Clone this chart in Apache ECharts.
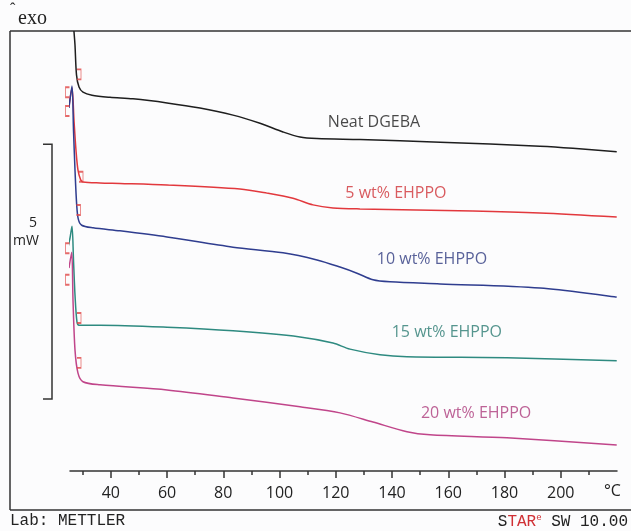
<!DOCTYPE html>
<html>
<head>
<meta charset="utf-8">
<script src="https://cdn.jsdelivr.net/npm/echarts@6/dist/echarts.min.js"></script>
<style>
html, body { margin: 0; padding: 0; background: #fcfcfd; }
#chart { width: 631px; height: 531px; }
</style>
</head>
<body>
<div id="chart"></div>
<script>
// DSC curves: temperature (°C) and heat flow (mW, curves shifted apart)
var neatT = [26.9, 27.28, 27.81, 28.7, 30.12, 33.32, 39.72, 47.9, 60.0, 71.72, 83.46, 93.06, 101.24, 107.28, 113.32, 128.6, 157.1, 192.6, 204.3, 219.9];
var neatY = [8.63, 8.35, 7.77, 7.53, 7.43, 7.37, 7.33, 7.30, 7.22, 7.12, 6.98, 6.82, 6.65, 6.55, 6.52, 6.50, 6.45, 6.37, 6.33, 6.26];

var wt5T = [25.14, 26.21, 26.92, 27.63, 28.34, 29.3, 30.12, 36.17, 43.28, 59.99, 85.94, 95.54, 104.79, 111.9, 119.01, 128.61, 168.79, 192.6, 219.9];
var wt5Y = [7.16, 7.51, 6.88, 6.29, 5.90, 5.71, 5.67, 5.65, 5.64, 5.61, 5.53, 5.45, 5.35, 5.22, 5.16, 5.14, 5.10, 5.06, 4.98];

var wt10T = [25.14, 26.21, 26.74, 27.28, 27.88, 28.45, 29.66, 33.68, 43.28, 59.99, 83.46, 101.24, 113.32, 121.5, 127.54, 133.23, 139.28, 157.06, 192.62, 219.9];
var wt10Y = [7.12, 7.55, 6.69, 5.90, 5.22, 4.94, 4.82, 4.77, 4.71, 4.59, 4.39, 4.28, 4.14, 4.00, 3.88, 3.75, 3.71, 3.67, 3.59, 3.41];

var wt15T = [24.79, 25.5, 26.21, 26.74, 27.28, 27.99, 28.7, 36.17, 60.0, 83.46, 107.28, 119.01, 125.06, 135.73, 145.32, 180.88, 219.9];
var wt15Y = [4.39, 4.57, 4.80, 4.14, 3.45, 2.92, 2.86, 2.86, 2.82, 2.75, 2.63, 2.51, 2.39, 2.28, 2.24, 2.22, 2.16];

var wt20T = [25.14, 26.1, 26.57, 27.28, 28.34, 30.12, 36.17, 60.0, 83.46, 107.28, 121.5, 133.23, 145.32, 153.5, 180.88, 219.9];
var wt20Y = [3.98, 4.29, 3.35, 2.37, 1.92, 1.75, 1.69, 1.59, 1.43, 1.26, 1.14, 0.96, 0.77, 0.71, 0.65, 0.51];

var curveNames = ['Neat DGEBA', '5 wt% EHPPO', '10 wt% EHPPO', '15 wt% EHPPO', '20 wt% EHPPO'];
var curveColors = ['#1e1e1e', '#e2383d', '#2f3d8f', '#2e8a80', '#c0458a'];
var textColors = ['#1a1a1a', '#cf3237', '#2e3a80', '#2a7a72', '#ad3b7c'];

// where each curve name is written
var labelT = [133.6, 141.4, 154.2, 159.5, 169.9];
var labelY = [6.84, 5.45, 4.14, 2.71, 1.12];

// integration limit markers
var limitRight = [[28.7, 7.78], [29.41, 5.77], [28.52, 5.12], [28.7, 3.0], [28.7, 2.12]];
var limitLeft = [[24.6, 7.43], [24.6, 7.06], [24.6, 4.37], [24.6, 3.75]];

var majorTicks = [40, 60, 80, 100, 120, 140, 160, 180, 200];
var minorTicks = [30, 50, 70, 90, 110, 130, 150, 170, 190, 210];

// 5 mW scale bar
var scaleTop = 6.41;
var scaleSpan = 5;
var scaleBarT = [15.9, 19.1];

function zip(xs, ys) {
    return xs.map(function (x, i) { return [x, ys[i]]; });
}

var curves = [zip(neatT, neatY), zip(wt5T, wt5Y), zip(wt10T, wt10Y), zip(wt15T, wt15Y), zip(wt20T, wt20Y)];

var series = curves.map(function (d, i) {
    return {
        type: 'line',
        name: curveNames[i],
        data: d,
        smooth: 0.3,
        showSymbol: false,
        clip: false,
        lineStyle: { color: curveColors[i], width: 1.5 },
        z: 3
    };
});

series.push({
    type: 'scatter',
    data: labelT.map(function (t, i) {
        return {
            value: [t, labelY[i]],
            label: { color: textColors[i] },
            name: curveNames[i]
        };
    }),
    symbolSize: 0,
    label: {
        show: true,
        position: 'inside',
        formatter: '{b}',
        fontFamily: 'Open Sans',
        fontSize: 16
    },
    silent: true
});

series.push({
    type: 'scatter',
    data: limitRight,
    symbol: 'path://M0,0 L3,0 L3,10 L0,10',
    symbolSize: [4, 10],
    itemStyle: { color: 'transparent', borderColor: '#e04545', borderWidth: 1.2 },
    clip: false,
    silent: true,
    z: 4
});

series.push({
    type: 'scatter',
    data: limitLeft,
    symbol: 'path://M3,0 L0,0 L0,10 L3,10',
    symbolSize: [4, 10],
    itemStyle: { color: 'transparent', borderColor: '#e04545', borderWidth: 1.2 },
    clip: false,
    silent: true,
    z: 4
});

var chart = echarts.init(document.getElementById('chart'));

var frame = { stroke: '#333', lineWidth: 1.5 };

chart.setOption({
    backgroundColor: '#fcfcfd',
    animation: false,
    grid: { left: 70, right: 14, top: 31, bottom: 60 },
    xAxis: [{
        type: 'value',
        min: 25.5,
        max: 220,
        position: 'bottom',
        offset: 0,
        splitLine: { show: false },
        axisLine: { lineStyle: { color: '#333', width: 1.5 } },
        axisTick: { customValues: majorTicks, length: 7, lineStyle: { color: '#333', width: 1.5 } },
        axisLabel: {
            customValues: majorTicks,
            margin: 14,
            color: '#222',
            fontFamily: 'Open Sans',
            fontSize: 16
        }
    }, {
        type: 'value',
        min: 25.5,
        max: 220,
        position: 'bottom',
        offset: 0,
        splitLine: { show: false },
        axisLine: { show: false },
        axisTick: { customValues: minorTicks, length: 4, lineStyle: { color: '#333', width: 1.5 } },
        axisLabel: { show: false }
    }],
    yAxis: {
        type: 'value',
        min: 0,
        max: 8.63,
        show: false
    },
    series: series
});

// scale bar placed through the axes so it is exactly 5 mW tall
var pTop = chart.convertToPixel({ xAxisIndex: 0, yAxisIndex: 0 }, [scaleBarT[0], scaleTop]);
var pBot = chart.convertToPixel({ xAxisIndex: 0, yAxisIndex: 0 }, [scaleBarT[1], scaleTop - scaleSpan]);

chart.setOption({
    graphic: [
        { type: 'line', shape: { x1: 10, y1: 31, x2: 631, y2: 31 }, style: frame },
        { type: 'line', shape: { x1: 10, y1: 31, x2: 10, y2: 510 }, style: frame },
        { type: 'line', shape: { x1: 10, y1: 510, x2: 631, y2: 510 }, style: frame },
        {
            type: 'polyline',
            shape: { points: [[pTop[0], pTop[1]], [pBot[0], pTop[1]], [pBot[0], pBot[1]], [pTop[0], pBot[1]]] },
            style: { stroke: '#333', lineWidth: 1.5, fill: null }
        },
        { type: 'text', left: 10, top: 2, style: { text: 'ˆ', font: '16px "Liberation Serif"', fill: '#222' } },
        { type: 'text', left: 18, top: 9, style: { text: 'exo', font: '20px "Liberation Serif"', fill: '#222' } },
        { type: 'text', left: 29, top: 216, style: { text: '5', font: '14px "Open Sans"', fill: '#222' } },
        { type: 'text', left: 13, top: 234, style: { text: 'mW', font: '14px "Open Sans"', fill: '#222' } },
        { type: 'text', left: 604, top: 483, style: { text: '°C', font: '16px "Open Sans"', fill: '#222' } },
        { type: 'text', left: 10, top: 513, style: { text: 'Lab: METTLER', font: '16px "Liberation Mono"', fill: '#222' } },
        {
            type: 'text', right: 3, top: 513,
            style: {
                text: '{k|S}{r|TAR}{s|e}{k| SW 10.00}',
                rich: {
                    k: { font: '16px "Liberation Mono"', fill: '#222' },
                    r: { font: '16px "Liberation Mono"', fill: '#d03035' },
                    s: { font: '9px "Liberation Mono"', fill: '#d03035', verticalAlign: 'top', padding: [0, 0, 8, 0] }
                }
            }
        }
    ]
});
</script>
</body>
</html>
